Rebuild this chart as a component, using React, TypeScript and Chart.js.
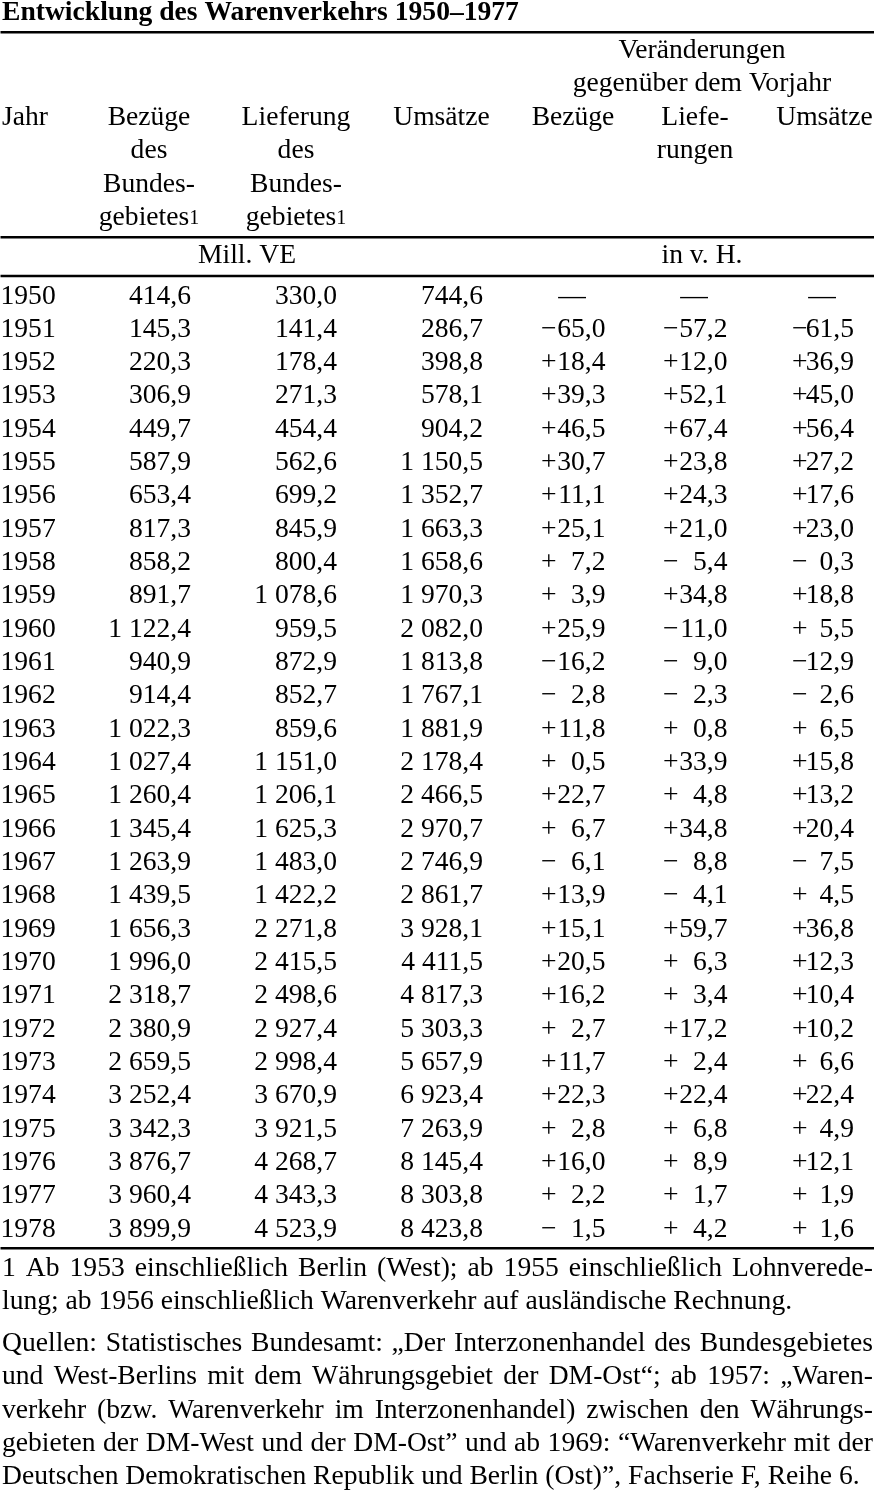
import React, { useEffect, useRef } from "react";
import { Chart, registerables } from "chart.js";
Chart.register(...registerables);

// ---------- data ----------
const TITLE = "Entwicklung des Warenverkehrs 1950–1977";
const years = [1950, 1951, 1952, 1953, 1954, 1955, 1956, 1957, 1958, 1959, 1960, 1961, 1962, 1963, 1964, 1965, 1966, 1967, 1968, 1969, 1970, 1971, 1972, 1973, 1974, 1975, 1976, 1977, 1978];
const bezuege = [414.6, 145.3, 220.3, 306.9, 449.7, 587.9, 653.4, 817.3, 858.2, 891.7, 1122.4, 940.9, 914.4, 1022.3, 1027.4, 1260.4, 1345.4, 1263.9, 1439.5, 1656.3, 1996.0, 2318.7, 2380.9, 2659.5, 3252.4, 3342.3, 3876.7, 3960.4, 3899.9];
const lieferung = [330.0, 141.4, 178.4, 271.3, 454.4, 562.6, 699.2, 845.9, 800.4, 1078.6, 959.5, 872.9, 852.7, 859.6, 1151.0, 1206.1, 1625.3, 1483.0, 1422.2, 2271.8, 2415.5, 2498.6, 2927.4, 2998.4, 3670.9, 3921.5, 4268.7, 4343.3, 4523.9];
const umsaetze = [744.6, 286.7, 398.8, 578.1, 904.2, 1150.5, 1352.7, 1663.3, 1658.6, 1970.3, 2082.0, 1813.8, 1767.1, 1881.9, 2178.4, 2466.5, 2970.7, 2746.9, 2861.7, 3928.1, 4411.5, 4817.3, 5303.3, 5657.9, 6923.4, 7263.9, 8145.4, 8303.8, 8423.8];
const chgBezuege = [null, -65.0, 18.4, 39.3, 46.5, 30.7, 11.1, 25.1, 7.2, 3.9, 25.9, -16.2, -2.8, 11.8, 0.5, 22.7, 6.7, -6.1, 13.9, 15.1, 20.5, 16.2, 2.7, 11.7, 22.3, 2.8, 16.0, 2.2, -1.5];
const chgLieferungen = [null, -57.2, 12.0, 52.1, 67.4, 23.8, 24.3, 21.0, -5.4, 34.8, -11.0, -9.0, -2.3, 0.8, 33.9, 4.8, 34.8, -8.8, -4.1, 59.7, 6.3, 3.4, 17.2, 2.4, 22.4, 6.8, 8.9, 1.7, 4.2];
const chgUmsaetze = [null, -61.5, 36.9, 45.0, 56.4, 27.2, 17.6, 23.0, -0.3, 18.8, 5.5, -12.9, -2.6, 6.5, 15.8, 13.2, 20.4, -7.5, 4.5, 36.8, 12.3, 10.4, 10.2, 6.6, 22.4, 4.9, 12.1, 1.9, 1.6];

const headYear = "Jahr";
const headBezuege = ["Bezüge", "des", "Bundes-", "gebietes"];
const headLieferung = ["Lieferung", "des", "Bundes-", "gebietes"];
const headUmsaetze = ["Umsätze"];
const headGroup = ["Veränderungen", "gegenüber dem Vorjahr"];
const headChgBezuege = ["Bezüge"];
const headChgLieferungen = ["Liefe-", "rungen"];
const headChgUmsaetze = ["Umsätze"];
const footMark = "1";
const unitAbs = "Mill. VE";
const unitPct = "in v. H.";
const note1 = [
  "1 Ab 1953 einschließlich Berlin (West); ab 1955 einschließlich Lohnverede-",
  "lung; ab 1956 einschließlich Warenverkehr auf ausländische Rechnung.",
];
const note2 = [
  "Quellen: Statistisches Bundesamt: „Der Interzonenhandel des Bundesgebietes",
  "und West-Berlins mit dem Währungsgebiet der DM-Ost“; ab 1957: „Waren-",
  "verkehr (bzw. Warenverkehr im Interzonenhandel) zwischen den Währungs-",
  "gebieten der DM-West und der DM-Ost” und ab 1969: “Warenverkehr mit der",
  "Deutschen Demokratischen Republik und Berlin (Ost)”, Fachserie F, Reihe 6.",
];

// ---------- layout (x in page px units, y in row units) ----------
const W = 875;
const H = 1492;
const ROW_H = 33.333;
const ROW0 = 303.5;
const Y_MIN = -ROW0 / ROW_H;
const Y_MAX = (H - ROW0) / ROW_H;
const FAMILY = '"Liberation Serif", "Times New Roman", Times, serif';
const FS = 27.6;
const LEFT = 2;
const RIGHT = 873;

type ColCfg = { values: (number | null)[]; kind: "year" | "abs" | "chg"; x: number; signX?: number; dashX?: number };
const COLUMNS: ColCfg[] = [
  { values: years, kind: "year", x: 0.5 },
  { values: bezuege, kind: "abs", x: 191 },
  { values: lieferung, kind: "abs", x: 337 },
  { values: umsaetze, kind: "abs", x: 483 },
  { values: chgBezuege, kind: "chg", x: 605.5, signX: 541, dashX: 572 },
  { values: chgLieferungen, kind: "chg", x: 727.5, signX: 663, dashX: 694 },
  { values: chgUmsaetze, kind: "chg", x: 854, signX: 792, dashX: 822 },
];

function fmtNum(v: number): string {
  const [i, d] = Math.abs(v).toFixed(1).split(".");
  const g = i.replace(/\B(?=(\d{3})+(?!\d))/g, " ");
  return g + "," + d;
}

const tablePlugin = {
  id: "tablePlugin",
  afterDraw(chart: any) {
    const ctx: CanvasRenderingContext2D = chart.ctx;
    const xs = chart.scales.x;
    const ys = chart.scales.y;
    const px = (v: number) => xs.getPixelForValue(v);
    const py = (v: number) => ys.getPixelForValue(v);
    ctx.save();
    ctx.fillStyle = "#000";
    ctx.strokeStyle = "#000";
    ctx.textBaseline = "alphabetic";
    const font = (size = FS, bold = false) => `${bold ? "bold " : ""}${size}px ${FAMILY}`;
    const text = (s: string, x: number, y: number, align: CanvasTextAlign, f = font()) => {
      ctx.font = f;
      ctx.textAlign = align;
      ctx.fillText(s, px(x), py(y));
    };
    const rule = (y: number) => {
      ctx.lineWidth = 2.4;
      ctx.beginPath();
      ctx.moveTo(px(0.5), py(y));
      ctx.lineTo(px(874), py(y));
      ctx.stroke();
    };

    // title
    text(TITLE, LEFT, -8.505, "left", font(FS, true));
    rule(-8.139);

    // group header
    headGroup.forEach((s, k) => text(s, 702, -7.365 + k, "center"));

    // column headers
    const hy = -5.355;
    text(headYear, 2, hy, "left");
    const stack = (lines: string[], cx: number, mark: boolean) => {
      lines.forEach((s, k) => {
        if (mark && k === lines.length - 1) {
          ctx.font = font();
          const w1 = ctx.measureText(s).width;
          ctx.font = font(20);
          const w2 = ctx.measureText(footMark).width;
          const start = px(cx) - (w1 + w2) / 2;
          ctx.font = font();
          ctx.textAlign = "left";
          ctx.fillText(s, start, py(hy + k));
          ctx.font = font(20);
          ctx.fillText(footMark, start + w1, py(hy + k) - 1.5);
        } else {
          text(s, cx, hy + k, "center");
        }
      });
    };
    stack(headBezuege, 149, true);
    stack(headLieferung, 296, true);
    stack(headUmsaetze, 441.5, false);
    stack(headChgBezuege, 573, false);
    stack(headChgLieferungen, 695, false);
    stack(headChgUmsaetze, 824.5, false);

    rule(-1.986);
    text(unitAbs, 247, -1.206, "center");
    text(unitPct, 702, -1.206, "center");
    rule(-0.825);

    // data cells, positioned from dataset elements
    chart.data.datasets.forEach((ds: any, di: number) => {
      const cfg = COLUMNS[di];
      const meta = chart.getDatasetMeta(di);
      meta.data.forEach((el: any, j: number) => {
        const v = cfg.values[j];
        const x = el.x;
        const y = el.y;
        ctx.font = font();
        if (cfg.kind === "year") {
          ctx.textAlign = "left";
          ctx.fillText(String(v), x, y);
        } else if (cfg.kind === "abs") {
          ctx.textAlign = "right";
          ctx.fillText(fmtNum(v as number), x, y);
        } else {
          if (v === null) {
            ctx.textAlign = "center";
            ctx.fillText("—", px(cfg.dashX!), y);
          } else {
            ctx.textAlign = "left";
            ctx.fillText(v < 0 ? "−" : "+", px(cfg.signX!), y);
            ctx.textAlign = "right";
            ctx.fillText(fmtNum(v), x, y);
          }
        }
      });
    });

    rule(28.344);

    // notes (justified)
    const para = (lines: string[], y0: number) => {
      ctx.font = font();
      ctx.textAlign = "left";
      lines.forEach((ln, k) => {
        const y = py(y0 + k);
        if (k === lines.length - 1) {
          ctx.fillText(ln, px(LEFT), y);
          return;
        }
        const words = ln.split(" ");
        const widths = words.map((w) => ctx.measureText(w).width);
        const sum = widths.reduce((a, b) => a + b, 0);
        const gap = (px(RIGHT) - px(LEFT) - sum) / (words.length - 1);
        let cx = px(LEFT);
        words.forEach((w, i) => {
          ctx.fillText(w, cx, y);
          cx += widths[i] + gap;
        });
      });
    };
    para(note1, 29.175);
    para(note2, 31.425);

    ctx.restore();
  },
};

export default function App() {
  const ref = useRef<HTMLCanvasElement | null>(null);
  useEffect(() => {
    if (!ref.current) return;
    const chart = new Chart(ref.current, {
      type: "scatter",
      data: {
        datasets: COLUMNS.map((c, i) => ({
          label: "col" + i,
          data: c.values.map((_, j) => ({ x: c.x, y: j })),
          pointRadius: 0,
          pointHoverRadius: 0,
          showLine: false,
        })),
      },
      options: {
        animation: false,
        responsive: true,
        maintainAspectRatio: false,
        events: [],
        layout: { padding: 0 },
        scales: {
          x: { type: "linear", min: 0, max: W, display: false },
          y: { type: "linear", min: Y_MIN, max: Y_MAX, reverse: true, display: false },
        },
        plugins: { legend: { display: false }, tooltip: { enabled: false }, title: { display: false } },
      },
      plugins: [tablePlugin],
    });
    return () => chart.destroy();
  }, []);
  return (
    <div style={{ position: "absolute", left: 0, top: 0, width: W, height: H, background: "#fff" }}>
      <canvas ref={ref} />
    </div>
  );
}
